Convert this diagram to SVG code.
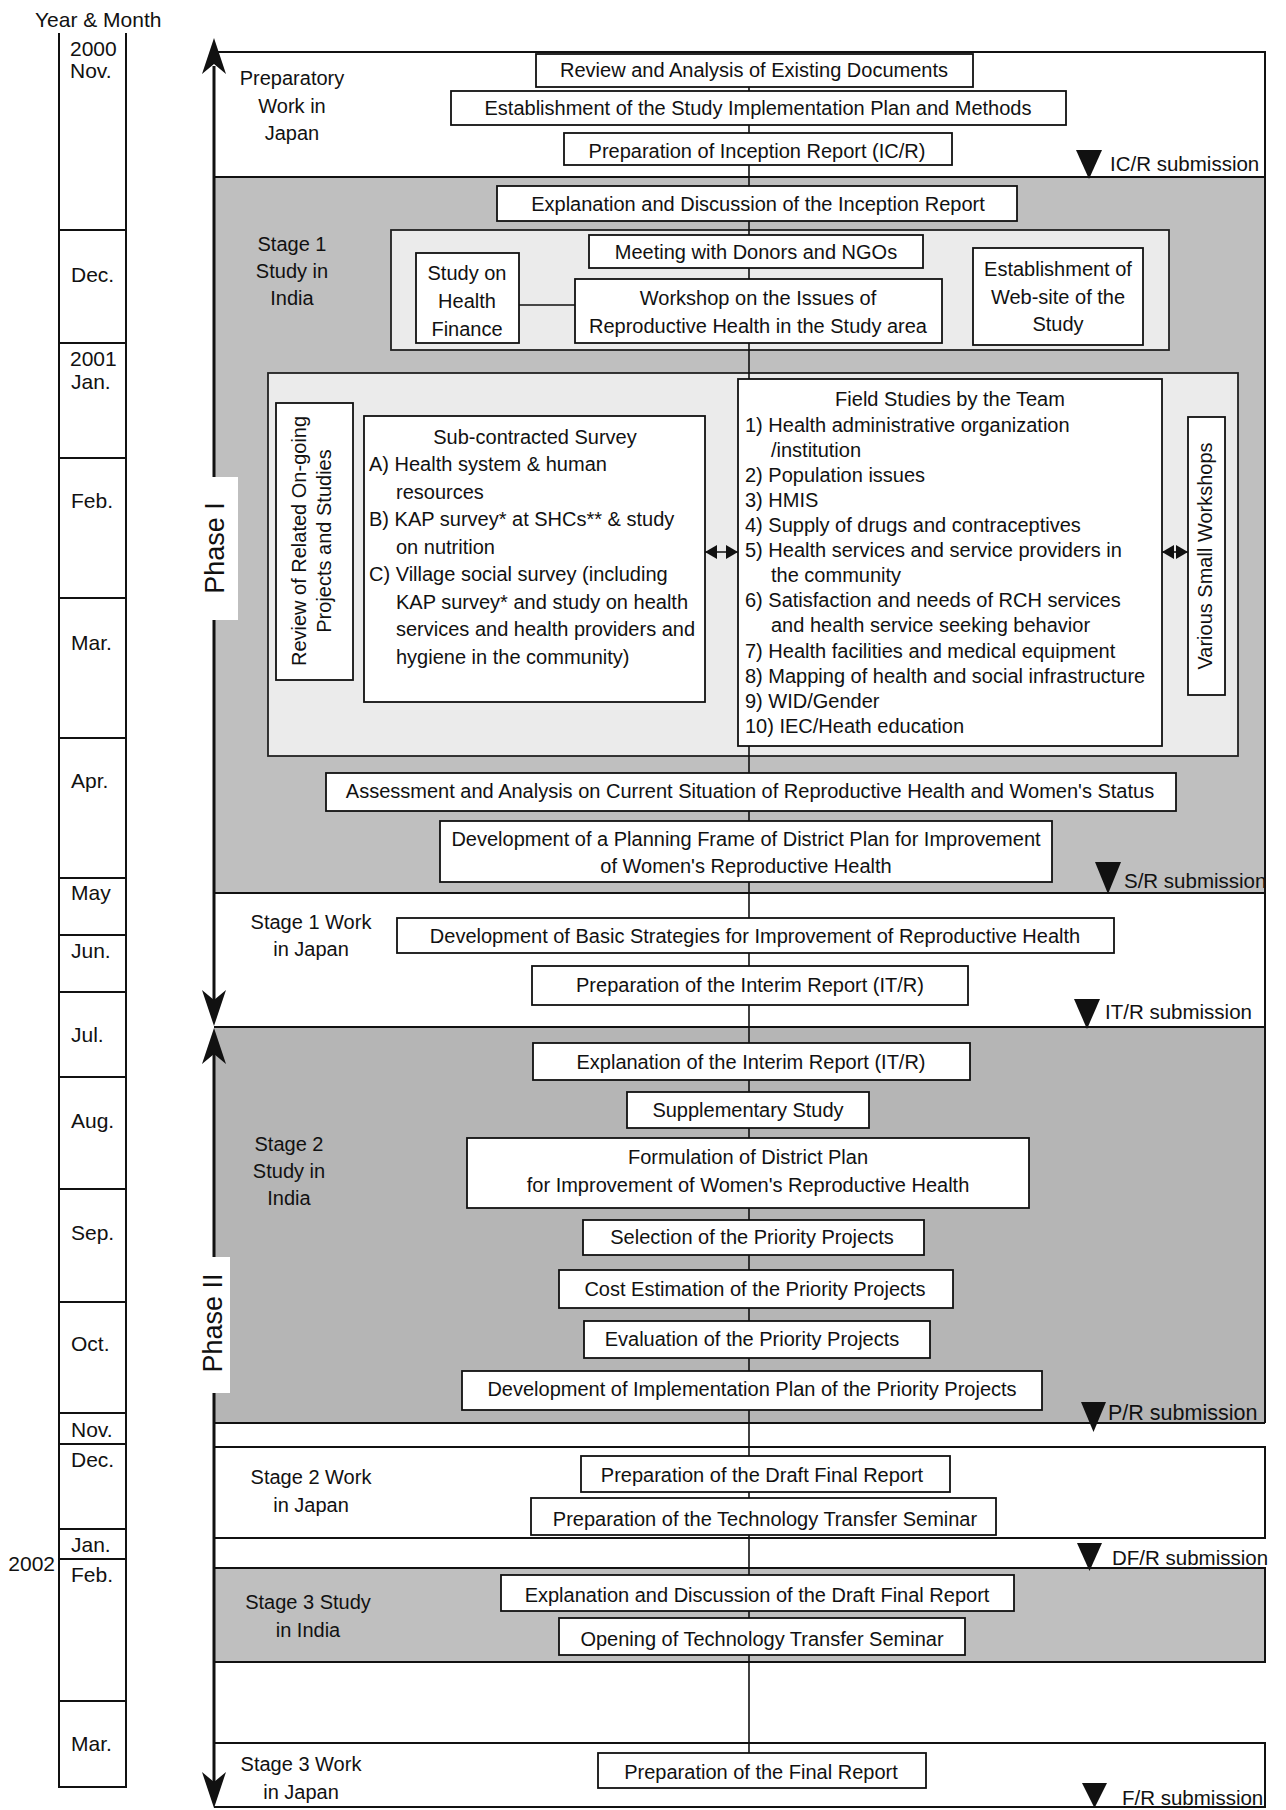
<svg xmlns="http://www.w3.org/2000/svg" width="1286" height="1810" viewBox="0 0 1286 1810">
<style>
text { font-family: "Liberation Sans", Arial, Helvetica, sans-serif; font-size: 20px; fill: #111; }
.c { text-anchor: middle; }
.e { text-anchor: end; }
.mo { font-size: 21px; }
.ph { font-size: 27px; }
.sub { font-size: 20.5px; }
.box { fill: #fff; stroke: #111; stroke-width: 1.8; }
.cont { fill: #ebebeb; stroke: #222; stroke-width: 1.8; }
.gray { fill: #bfbfbf; }
.gray2 { fill: #b5b5b5; }
.fr { fill: none; stroke: #111; stroke-width: 2; }
.tl { fill: none; stroke: #111; stroke-width: 2; }
.cn { fill: none; stroke: #111; stroke-width: 1.6; }
.axis { fill: none; stroke: #111; stroke-width: 3; }
.ah { fill: #111; }
</style>
<defs>
<marker id="arr" viewBox="0 0 12 14" refX="12" refY="7" markerWidth="12" markerHeight="14" markerUnits="userSpaceOnUse" orient="auto-start-reverse">
<path d="M0,0 L12,7 L0,14 Z" fill="#111"/>
</marker>
<clipPath id="inframe"><rect x="0" y="0" width="1265" height="1810"/></clipPath>
</defs>
<rect x="0" y="0" width="1286" height="1810" fill="#fff"/>

<g id="timeline">
<text class="mo" x="35" y="27">Year &amp; Month</text>
<path class="tl" d="M59,33 V1787 H126 V33 M59,230 H126 M59,343 H126 M59,458 H126 M59,598 H126 M59,738 H126 M59,878 H126 M59,935 H126 M59,992 H126 M59,1077 H126 M59,1189 H126 M59,1302 H126 M59,1413 H126 M59,1444 H126 M59,1529 H126 M59,1559 H126 M59,1701 H126"/>
<text class="mo" x="70" y="56">2000</text>
<text class="mo" x="70" y="78">Nov.</text>
<text class="mo" x="71" y="282">Dec.</text>
<text class="mo" x="70" y="366">2001</text>
<text class="mo" x="71" y="389">Jan.</text>
<text class="mo" x="71" y="508">Feb.</text>
<text class="mo" x="71" y="650">Mar.</text>
<text class="mo" x="71" y="788">Apr.</text>
<text class="mo" x="71" y="900">May</text>
<text class="mo" x="71" y="958">Jun.</text>
<text class="mo" x="71" y="1042">Jul.</text>
<text class="mo" x="71" y="1128">Aug.</text>
<text class="mo" x="71" y="1240">Sep.</text>
<text class="mo" x="71" y="1351">Oct.</text>
<text class="mo" x="71" y="1437">Nov.</text>
<text class="mo" x="71" y="1467">Dec.</text>
<text class="mo" x="71" y="1552">Jan.</text>
<text class="mo" x="71" y="1582">Feb.</text>
<text class="mo" x="71" y="1751">Mar.</text>
<text class="mo e" x="55" y="1571">2002</text>
</g>

<g id="frame">
<rect class="gray" x="214" y="177" width="1051" height="716"/>
<rect class="gray2" x="214" y="1027" width="1051" height="396"/>
<rect class="gray" x="214" y="1568" width="1051" height="94"/>
<rect fill="#fff" x="200" y="477" width="38" height="143"/>
<rect fill="#fff" x="200" y="1257" width="30" height="136"/>
<path class="fr" d="M214,52 H1265 V1423 M214,177 H1265 M214,893 H1265 M214,1027 H1265 M214,1423 H1265 M214,1447 H1265 V1538 H214 M214,1568 H1265 V1662 H214 M214,1743 H1265 V1807 H214"/>
</g>

<g id="phase-arrows">
<path class="axis" d="M214,66 V477 M214,620 V1000"/>
<path class="ah" d="M214,38 L226,74 L214,64 L202,74 Z"/>
<path class="ah" d="M214,1026 L226,990 L214,1000 L202,990 Z"/>
<path class="axis" d="M214,1054 V1257 M214,1393 V1782"/>
<path class="ah" d="M214,1028 L226,1064 L214,1054 L202,1064 Z"/>
<path class="ah" d="M214,1808 L226,1772 L214,1782 L202,1772 Z"/>
<text class="ph c" transform="translate(224,548) rotate(-90)">Phase I</text>
<text class="ph c" transform="translate(222,1323) rotate(-90)">Phase II</text>
</g>

<g id="stage-labels">
<text class="c" x="292" y="85">Preparatory</text>
<text class="c" x="292" y="113">Work in</text>
<text class="c" x="292" y="140">Japan</text>
<text class="c" x="292" y="251">Stage 1</text>
<text class="c" x="292" y="278">Study in</text>
<text class="c" x="292" y="305">India</text>
<text class="c" x="311" y="929">Stage 1 Work</text>
<text class="c" x="311" y="956">in Japan</text>
<text class="c" x="289" y="1151">Stage 2</text>
<text class="c" x="289" y="1178">Study in</text>
<text class="c" x="289" y="1205">India</text>
<text class="c" x="311" y="1484">Stage 2 Work</text>
<text class="c" x="311" y="1512">in Japan</text>
<text class="c" x="308" y="1609">Stage 3 Study</text>
<text class="c" x="308" y="1637">in India</text>
<text class="c" x="301" y="1771">Stage 3 Work</text>
<text class="c" x="301" y="1799">in Japan</text>
</g>

<g id="containers">
<rect class="cont" x="391" y="230" width="778" height="120"/>
<rect class="cont" x="268" y="373" width="970" height="383"/>
</g>

<g id="connectors">
<path class="cn" d="M749,87 V1753"/>
<path class="cn" d="M519,305 H575"/>
<path class="cn" d="M705,552 H738" marker-start="url(#arr)" marker-end="url(#arr)"/>
<path class="cn" d="M1162,552 H1188" marker-start="url(#arr)" marker-end="url(#arr)"/>
</g>

<g id="n-review-docs"><rect class="box" x="536" y="54" width="437" height="33"/><text class="c" x="754" y="77">Review and Analysis of Existing Documents</text></g>
<g id="n-establish-plan"><rect class="box" x="451" y="91" width="615" height="34"/><text class="c" x="758" y="115">Establishment of the Study Implementation Plan and Methods</text></g>
<g id="n-prep-icr"><rect class="box" x="564" y="133" width="388" height="32"/><text class="c" x="757" y="158">Preparation of Inception Report (IC/R)</text></g>
<g id="n-explain-icr"><rect class="box" x="497" y="186" width="520" height="35"/><text class="c" x="758" y="211">Explanation and Discussion of the Inception Report</text></g>
<g id="n-meeting"><rect class="box" x="589" y="235" width="334" height="33"/><text class="c" x="756" y="259">Meeting with Donors and NGOs</text></g>
<g id="n-health-finance"><rect class="box" x="416" y="253" width="103" height="90"/><text class="c" x="467" y="280">Study on</text><text class="c" x="467" y="308">Health</text><text class="c" x="467" y="336">Finance</text></g>
<g id="n-workshop"><rect class="box" x="575" y="279" width="367" height="64"/><text class="c" x="758" y="305">Workshop on the Issues of</text><text class="c" x="758" y="333">Reproductive Health in the Study area</text></g>
<g id="n-website"><rect class="box" x="973" y="248" width="170" height="97"/><text class="c" x="1058" y="276">Establishment of</text><text class="c" x="1058" y="304">Web-site of the</text><text class="c" x="1058" y="331">Study</text></g>

<g id="n-review-ongoing"><rect class="box" x="276" y="403" width="77" height="277"/><text class="c" transform="translate(306,541) rotate(-90)">Review of Related On-going</text><text class="c" transform="translate(331,541) rotate(-90)">Projects and Studies</text></g>
<g id="n-subcontracted"><rect class="box" x="364" y="416" width="341" height="286"/>
<text class="c" x="535" y="444">Sub-contracted Survey</text>
<text x="369" y="471">A) Health system &amp; human</text>
<text x="396" y="499">resources</text>
<text x="369" y="526">B) KAP survey* at SHCs** &amp; study</text>
<text x="396" y="554">on nutrition</text>
<text x="369" y="581">C) Village social survey (including</text>
<text x="396" y="609">KAP survey* and study on health</text>
<text x="396" y="636">services and health providers and</text>
<text x="396" y="664">hygiene in the community)</text>
</g>
<g id="n-field-studies"><rect class="box" x="738" y="379" width="424" height="367"/>
<text class="c" x="950" y="406">Field Studies by the Team</text>
<text x="745" y="432">1) Health administrative organization</text>
<text x="771" y="457">/institution</text>
<text x="745" y="482">2) Population issues</text>
<text x="745" y="507">3) HMIS</text>
<text x="745" y="532">4) Supply of drugs and contraceptives</text>
<text x="745" y="557">5) Health services and service providers in</text>
<text x="771" y="582">the community</text>
<text x="745" y="607">6) Satisfaction and needs of RCH services</text>
<text x="771" y="632">and health service seeking behavior</text>
<text x="745" y="658">7) Health facilities and medical equipment</text>
<text x="745" y="683">8) Mapping of health and social infrastructure</text>
<text x="745" y="708">9) WID/Gender</text>
<text x="745" y="733">10) IEC/Heath education</text>
</g>
<g id="n-small-workshops"><rect class="box" x="1188" y="417" width="37" height="278"/><text class="c" transform="translate(1212,556) rotate(-90)">Various Small Workshops</text></g>

<g id="n-assessment"><rect class="box" x="326" y="773" width="850" height="38"/><text class="c" x="750" y="798">Assessment and Analysis on Current Situation of Reproductive Health and Women's Status</text></g>
<g id="n-planning-frame"><rect class="box" x="440" y="821" width="612" height="61"/><text class="c" x="746" y="846">Development of a Planning Frame of District Plan for Improvement</text><text class="c" x="746" y="873">of Women's Reproductive Health</text></g>
<g id="n-basic-strategies"><rect class="box" x="397" y="918" width="717" height="35"/><text class="c" x="755" y="943">Development of Basic Strategies for Improvement of Reproductive Health</text></g>
<g id="n-prep-itr"><rect class="box" x="532" y="966" width="436" height="39"/><text class="c" x="750" y="992">Preparation of the Interim Report (IT/R)</text></g>

<g id="n-explain-itr"><rect class="box" x="533" y="1043" width="437" height="37"/><text class="c" x="751" y="1069">Explanation of the Interim Report (IT/R)</text></g>
<g id="n-supplementary"><rect class="box" x="627" y="1092" width="242" height="36"/><text class="c" x="748" y="1117">Supplementary Study</text></g>
<g id="n-formulation"><rect class="box" x="467" y="1138" width="562" height="70"/><text class="c" x="748" y="1164">Formulation of District Plan</text><text class="c" x="748" y="1192">for Improvement of Women's Reproductive Health</text></g>
<g id="n-selection"><rect class="box" x="583" y="1220" width="341" height="35"/><text class="c" x="752" y="1244">Selection of the Priority Projects</text></g>
<g id="n-cost"><rect class="box" x="559" y="1270" width="394" height="38"/><text class="c" x="755" y="1296">Cost Estimation of the Priority Projects</text></g>
<g id="n-evaluation"><rect class="box" x="584" y="1321" width="346" height="37"/><text class="c" x="752" y="1346">Evaluation of the Priority Projects</text></g>
<g id="n-implementation"><rect class="box" x="462" y="1371" width="580" height="39"/><text class="c" x="752" y="1396">Development of Implementation Plan of the Priority Projects</text></g>

<g id="n-draft-final"><rect class="box" x="581" y="1456" width="369" height="36"/><text class="c" x="762" y="1482">Preparation of the Draft Final Report</text></g>
<g id="n-seminar-prep"><rect class="box" x="531" y="1498" width="465" height="37"/><text class="c" x="765" y="1526">Preparation of the Technology Transfer Seminar</text></g>
<g id="n-explain-dfr"><rect class="box" x="501" y="1575" width="513" height="36"/><text class="c" x="757" y="1602">Explanation and Discussion of the Draft Final Report</text></g>
<g id="n-seminar-open"><rect class="box" x="559" y="1618" width="406" height="37"/><text class="c" x="762" y="1646">Opening of Technology Transfer Seminar</text></g>
<g id="n-final"><rect class="box" x="598" y="1753" width="328" height="35"/><text class="c" x="761" y="1779">Preparation of the Final Report</text></g>

<g id="submissions">
<path class="ah" d="M1076,150 H1102 L1089,179 Z"/>
<text class="sub" x="1110" y="171">IC/R submission</text>
<path class="ah" d="M1095,862 H1121 L1108,894 Z"/>
<text class="sub" x="1124" y="888" clip-path="url(#inframe)">S/R submission</text>
<path class="ah" d="M1074,999 H1100 L1087,1029 Z"/>
<text class="sub" x="1105" y="1019">IT/R submission</text>
<path class="ah" d="M1081,1402 H1106 L1093.5,1432 Z"/>
<text class="sub" x="1108" y="1420" style="font-size:21.5px">P/R submission</text>
<path class="ah" d="M1077,1543 H1102 L1089.5,1571 Z"/>
<text class="sub" x="1112" y="1565">DF/R submission</text>
<path class="ah" d="M1082,1783 H1107 L1094.5,1808 Z"/>
<text class="sub" x="1122" y="1805">F/R submission</text>
</g>
</svg>
